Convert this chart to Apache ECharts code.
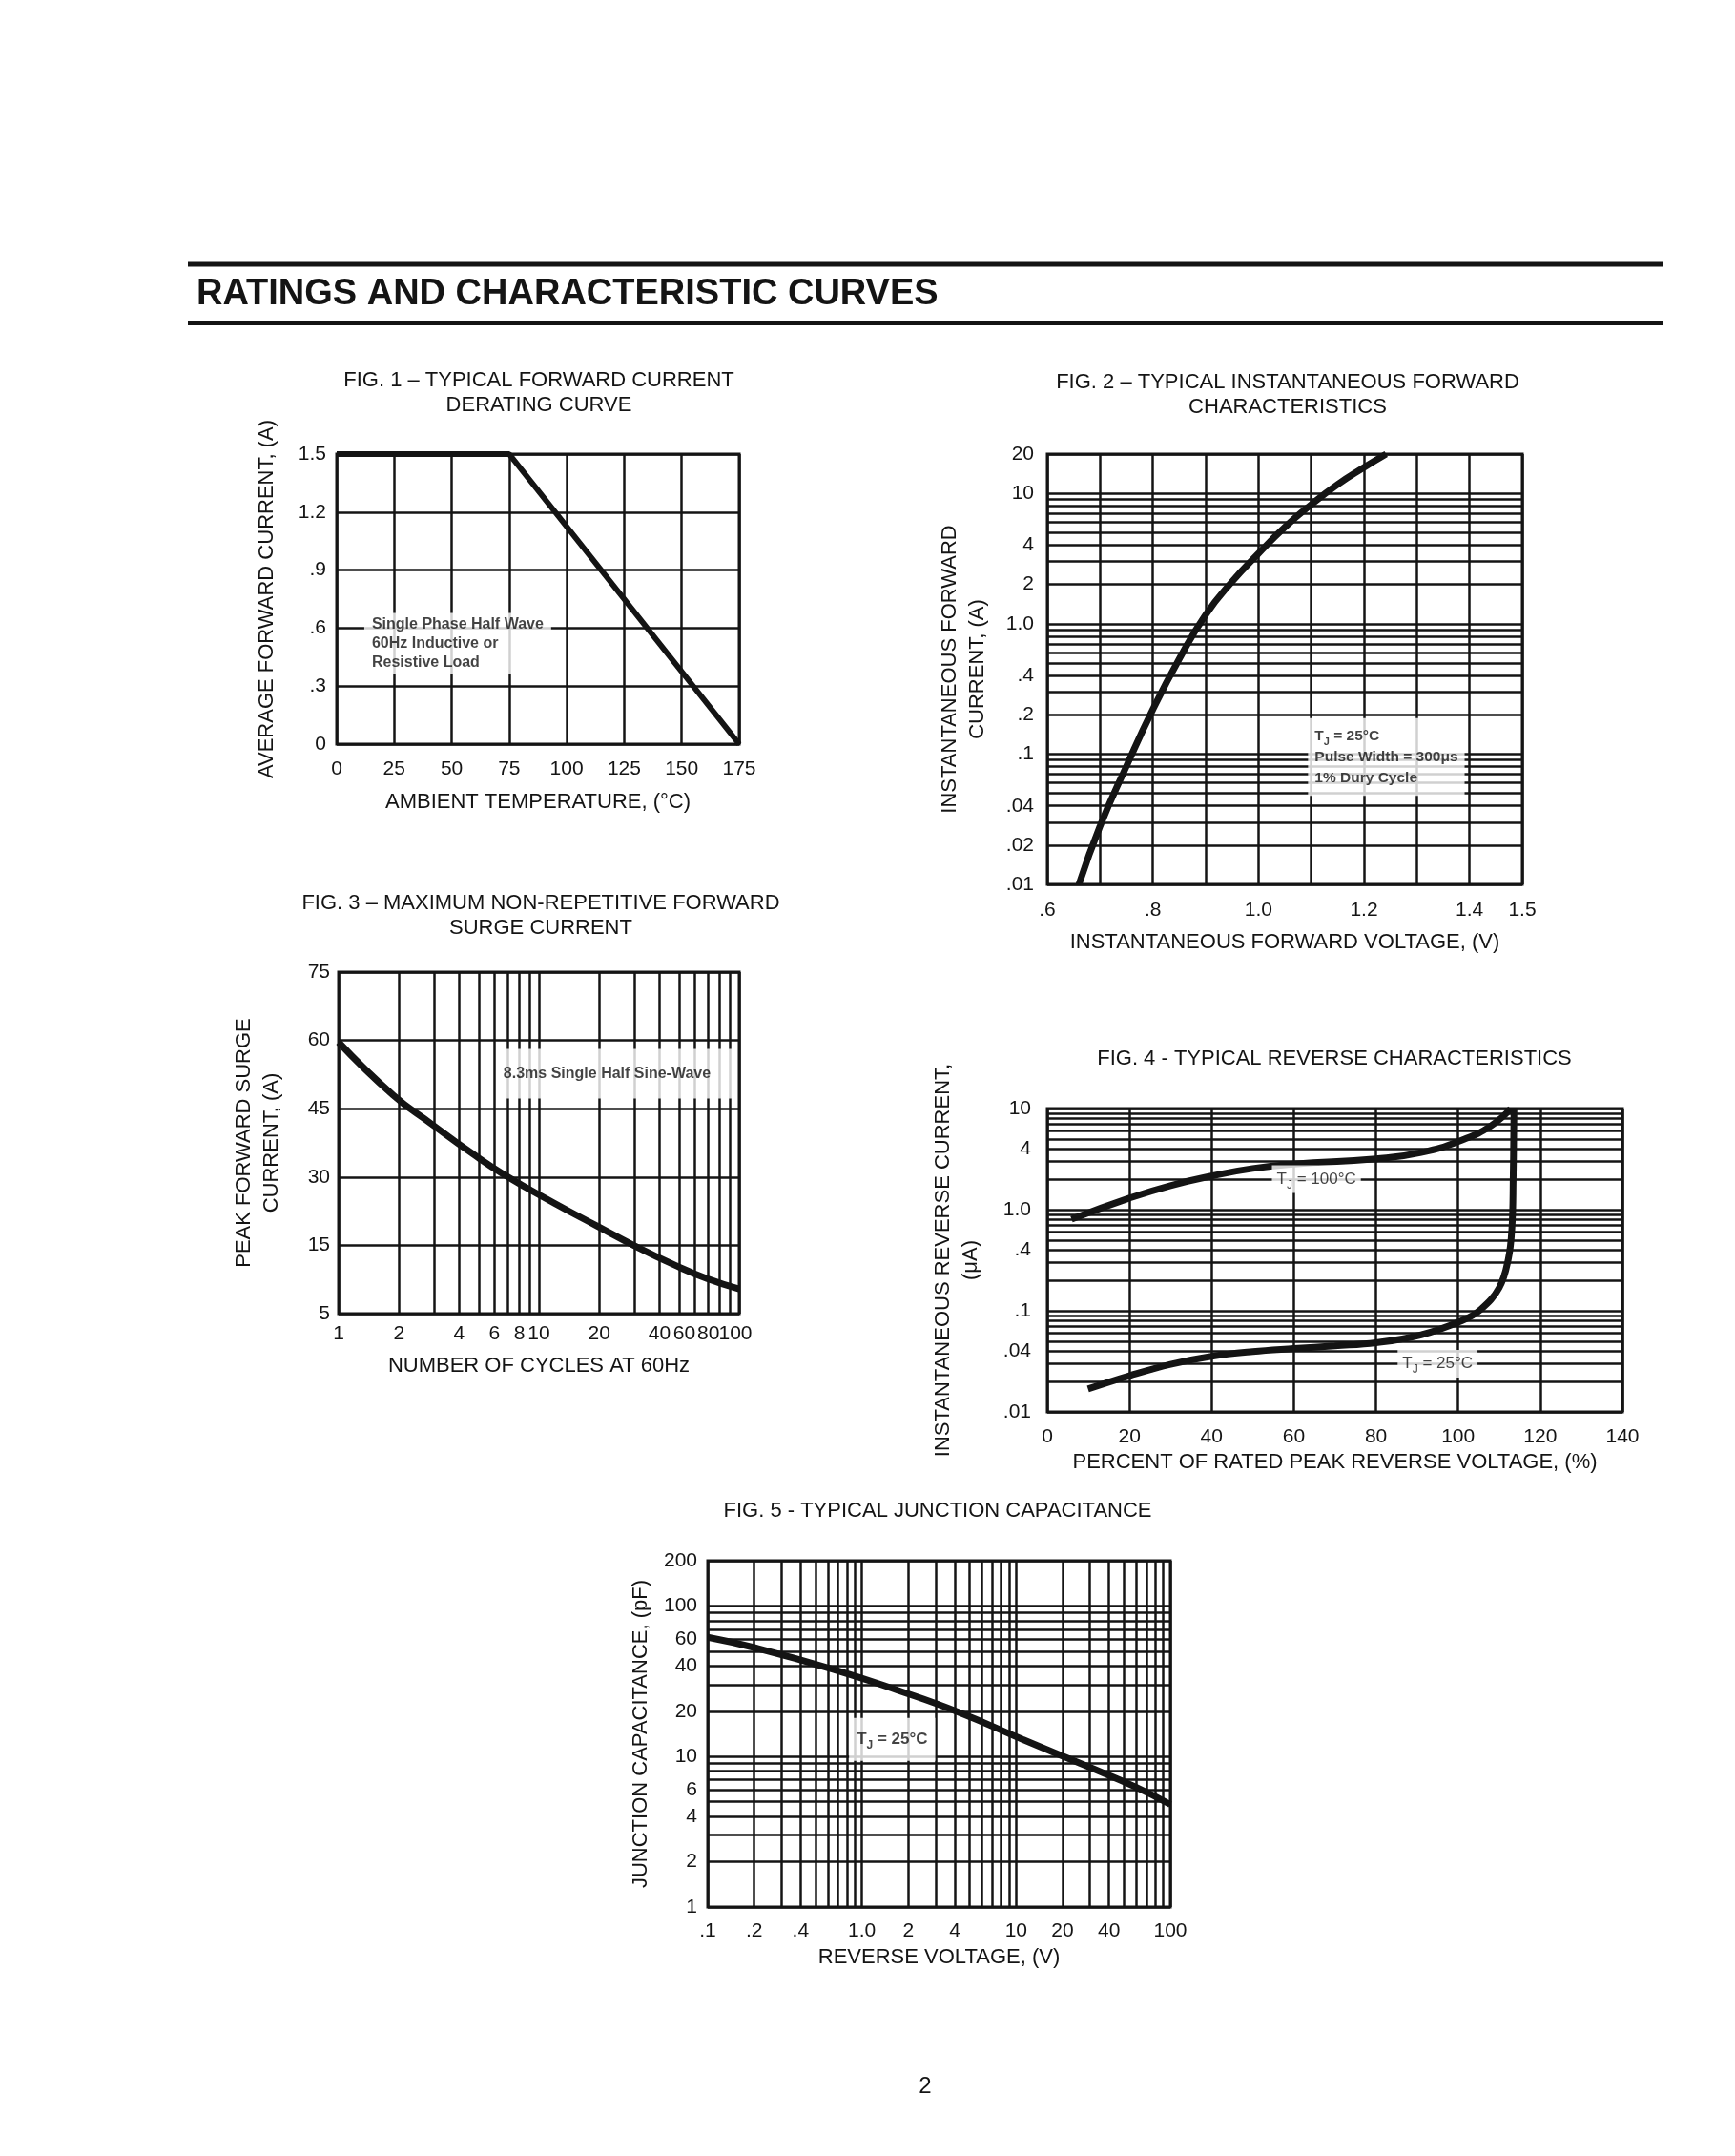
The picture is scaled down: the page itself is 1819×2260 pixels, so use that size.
<!DOCTYPE html>
<html>
<head>
<meta charset="utf-8">
<title>Ratings and Characteristic Curves</title>
<script src="https://cdn.jsdelivr.net/npm/echarts@6/dist/echarts.min.js"></script>
<style>
  html, body { margin: 0; padding: 0; background: #fff; }
  #main { width: 1819px; height: 2260px; }
</style>
</head>
<body>
<div id="main"></div>
<script>
// FIG. 1 - derating curve
var fig1Temp = [0, 75, 175];
var fig1Amps = [1.5, 1.5, 0];
var fig1YLabels = ['0', '.3', '.6', '.9', '1.2', '1.5'];

// FIG. 2 - forward characteristics
var fig2Volts = [0.66, 0.70, 0.75, 0.80, 0.85, 0.90, 0.95, 1.00, 1.05, 1.10, 1.15, 1.20, 1.242];
var fig2Amps = [0.01, 0.028, 0.0807, 0.22, 0.536, 1.17, 2.1, 3.45, 5.5, 8.2, 11.7, 15.8, 20];
var fig2XTicks = [0.6, 0.8, 1.0, 1.2, 1.4, 1.5];
var fig2XLabels = ['.6', '.8', '1.0', '1.2', '1.4', '1.5'];
var fig2YTicks = [20, 10, 4, 2, 1, 0.4, 0.2, 0.1, 0.04, 0.02, 0.01];
var fig2YLabels = ['20', '10', '4', '2', '1.0', '.4', '.2', '.1', '.04', '.02', '.01'];

// FIG. 3 - surge current
var fig3Cycles = [1, 1.87, 2.9, 4.67, 6.72, 12, 19.4, 30, 48, 69, 100];
var fig3Amps = [59.6, 48, 41.7, 35.1, 30.5, 24.2, 19.3, 14.9, 10.6, 7.7, 5.4];
var fig3XTicks = [1, 2, 4, 6, 8, 10, 20, 40, 60, 80, 100];
var fig3XLabels = ['1', '2', '4', '6', '8', '10', '20', '40', '60', '80', '100'];
var fig3YLabels = ['5', '15', '30', '45', '60', '75'];

// FIG. 4 - reverse characteristics
var fig4Pct100 = [5.9, 20, 30, 40, 50, 60, 80, 91, 101, 108, 112.8];
var fig4Ir100 = [0.805, 1.3, 1.73, 2.15, 2.55, 2.82, 3.18, 3.67, 4.89, 6.75, 10];
var fig4Pct25 = [9.9, 20, 30, 40, 50, 60, 70, 80, 91, 101, 105.5, 110, 112.2, 113.1, 113.4, 113.6];
var fig4Ir25 = [0.0169, 0.0228, 0.0296, 0.0355, 0.0395, 0.0423, 0.045, 0.0483, 0.0578, 0.08, 0.103, 0.169, 0.322, 0.66, 2, 10];
var fig4YTicks = [10, 4, 1, 0.4, 0.1, 0.04, 0.01];
var fig4YLabels = ['10', '4', '1.0', '.4', '.1', '.04', '.01'];

// FIG. 5 - junction capacitance
var fig5Volts = [0.1, 0.2, 0.65, 1.7, 4.3, 11, 29, 59, 100];
var fig5Cap = [62, 53, 38, 27.6, 19.6, 13, 8.6, 6.3, 4.8];
var fig5XTicks = [0.1, 0.2, 0.4, 1, 2, 4, 10, 20, 40, 100];
var fig5XLabels = ['.1', '.2', '.4', '1.0', '2', '4', '10', '20', '40', '100'];
var fig5YTicks = [200, 100, 60, 40, 20, 10, 6, 4, 2, 1];
var fig5YLabels = ['200', '100', '60', '40', '20', '10', '6', '4', '2', '1'];

var INK = '#141414';
var FONT = 'Liberation Sans, Arial, sans-serif';
var TICK = 21;

function zip(xs, ys) {
  return xs.map(function (x, i) { return [x, ys[i]]; });
}

// log paper rulings: 1..9 of every decade from lo up to hi
function logLines(lo, hi) {
  var out = [];
  for (var d = lo; d < hi * 0.999; d *= 10) {
    for (var m = 1; m <= 9; m++) {
      var v = +(m * d).toPrecision(3);
      if (v <= hi * 1.0001) out.push(v);
    }
  }
  if (out.indexOf(hi) < 0) out.push(hi);
  return out;
}

function pick(ticks, texts, v) {
  var k = ticks.findIndex(function (t) { return Math.abs(t - v) <= Math.abs(v) * 1e-6 + 1e-9; });
  return k < 0 ? '' : texts[k];
}

// markLine items for the rulings, labelled where there is a tick
function ruled(dim, lines, ticks, texts, dist, nudge) {
  return lines.map(function (v) {
    var item = {};
    item[dim] = v;
    var t = pick(ticks, texts, v);
    item.label = t === '' ? { show: false } : {
      show: true, position: 'start', distance: dist, formatter: t,
      color: INK, fontSize: TICK, fontFamily: FONT,
      offset: [(nudge && nudge[t]) || 0, 0]
    };
    return item;
  });
}

function axisBase(extra) {
  return Object.assign({
    axisLine: { show: false },
    axisTick: { show: false },
    nameLocation: 'middle',
    nameTextStyle: { color: INK, fontSize: 22, fontFamily: FONT, lineHeight: 29 },
    splitLine: { show: true, lineStyle: { color: INK, width: 2.5 } }
  }, extra);
}

function label(margin, fmt) {
  return { color: INK, fontSize: TICK, fontFamily: FONT, margin: margin, formatter: fmt };
}

function curve(i, pts, extra) {
  return Object.assign({
    type: 'line', xAxisIndex: i, yAxisIndex: i, data: pts,
    showSymbol: false, symbol: 'none', smooth: 0.5, z: 3, silent: true,
    lineStyle: { color: INK, width: 7 }
  }, extra);
}

function withRules(s, data) {
  s.markLine = {
    silent: true, z: 1, symbol: ['none', 'none'], animation: false,
    lineStyle: { color: INK, width: 2.5, type: 'solid' },
    label: { show: false },
    data: data
  };
  return s;
}

function note(i, point, text, opt) {
  return {
    type: 'scatter', xAxisIndex: i, yAxisIndex: i, z: 10, silent: true,
    symbolSize: 0, data: [point],
    label: Object.assign({
      show: true, position: 'right', distance: 0, formatter: text,
      backgroundColor: '#fff', color: INK, fontFamily: FONT,
      fontSize: 16, fontWeight: 'bold', lineHeight: 20, align: 'left'
    }, opt)
  };
}

function tjRich(size, weight) {
  return {
    t: { fontSize: size, fontWeight: weight, color: INK, fontFamily: FONT },
    s: { fontSize: Math.round(size * 0.7), fontWeight: weight, color: INK, fontFamily: FONT,
         verticalAlign: 'bottom', lineHeight: size + 8 }
  };
}

function text(x, y, str, font, align, lh) {
  return {
    type: 'text', x: x, y: y, silent: true,
    style: {
      text: str, font: font, fill: INK, lineHeight: lh || 26,
      align: align, textAlign: align, verticalAlign: 'middle', textVerticalAlign: 'middle'
    }
  };
}

var chart = echarts.init(document.getElementById('main'));

var series = [
  curve(0, zip(fig1Temp, fig1Amps), { smooth: false, clip: false, lineStyle: { color: INK, width: 6 } }),
  note(0, [12, 0.52], 'Single Phase Half Wave\n60Hz Inductive or\nResistive Load', { padding: [2, 8] }),

  withRules(curve(1, zip(fig2Volts, fig2Amps)),
    ruled('yAxis', logLines(0.01, 20), fig2YTicks, fig2YLabels, 14)),
  note(1, [1.094, 0.095], '{t|T}{s|J}{t| = 25°C}\n{t|Pulse Width = 300μs}\n{t|1% Dury Cycle}',
    { padding: [7, 7], lineHeight: 22, rich: tjRich(15.5, 'bold') }),

  withRules(curve(2, zip(fig3Cycles, fig3Amps)),
    ruled('xAxis', logLines(1, 100), fig3XTicks, fig3XLabels, 11, { '60': -11, '80': -12, '100': -4 })),
  note(2, [6.3, 52.7], '8.3ms Single Half Sine-Wave', { padding: [16, 24, 16, 5] }),

  withRules(curve(3, zip(fig4Pct100, fig4Ir100)),
    ruled('yAxis', logLines(0.01, 10), fig4YTicks, fig4YLabels, 17)),
  curve(3, zip(fig4Pct25, fig4Ir25), { smooth: 0.4 }),
  note(3, [65.5, 2], '{t|T}{s|J}{t| = 100°C}',
    { position: 'inside', align: 'center', padding: [2, 5], rich: tjRich(17, 'normal') }),
  note(3, [95, 0.03], '{t|T}{s|J}{t| = 25°C}',
    { position: 'inside', align: 'center', padding: [2, 5], rich: tjRich(17, 'normal') }),

  withRules(curve(4, zip(fig5Volts, fig5Cap)),
    ruled('xAxis', logLines(0.1, 100), fig5XTicks, fig5XLabels, 15)
      .concat(ruled('yAxis', logLines(1, 200), fig5YTicks, fig5YLabels, 11))),
  note(4, [1.57, 13], '{t|T}{s|J}{t| = 25°C}',
    { position: 'inside', align: 'center', padding: [10, 8], rich: tjRich(17, 'bold') })
];

var option = {
  animation: false,
  backgroundColor: '#fff',
  textStyle: { fontFamily: FONT },
  grid: [
    { left: 353, top: 476, width: 422, height: 304 },
    { left: 1098, top: 476, width: 498, height: 451 },
    { left: 355, top: 1019, width: 420, height: 358 },
    { left: 1098, top: 1162, width: 603, height: 318 },
    { left: 742, top: 1636, width: 485, height: 363 }
  ].map(function (g) {
    return Object.assign({ show: true, borderColor: INK, borderWidth: 3, backgroundColor: 'transparent' }, g);
  }),
  xAxis: [
    axisBase({ gridIndex: 0, type: 'value', min: 0, max: 175, interval: 25,
      name: 'AMBIENT TEMPERATURE, (°C)', nameGap: 46, axisLabel: label(16) }),
    axisBase({ gridIndex: 1, type: 'value', min: 0.6, max: 1.5, interval: 0.1,
      name: 'INSTANTANEOUS FORWARD VOLTAGE, (V)', nameGap: 46,
      axisLabel: label(17, function (v) { return pick(fig2XTicks, fig2XLabels, v); }) }),
    axisBase({ gridIndex: 2, type: 'log', logBase: 10, min: 1, max: 100,
      name: 'NUMBER OF CYCLES AT 60Hz', nameGap: 40,
      axisLabel: { show: false }, splitLine: { show: false } }),
    axisBase({ gridIndex: 3, type: 'value', min: 0, max: 140, interval: 20,
      name: 'PERCENT OF RATED PEAK REVERSE VOLTAGE, (%)', nameGap: 38, axisLabel: label(16) }),
    axisBase({ gridIndex: 4, type: 'log', logBase: 10, min: 0.1, max: 100,
      name: 'REVERSE VOLTAGE, (V)', nameGap: 38,
      axisLabel: { show: false }, splitLine: { show: false } })
  ],
  yAxis: [
    axisBase({ gridIndex: 0, type: 'value', min: 0, max: 1.5, interval: 0.3,
      name: 'AVERAGE FORWARD CURRENT, (A)', nameGap: 59,
      axisLabel: label(11, function (v) { return fig1YLabels[Math.round(v / 0.3)]; }) }),
    axisBase({ gridIndex: 1, type: 'log', logBase: 10, min: 0.01, max: 20,
      name: 'INSTANTANEOUS FORWARD\nCURRENT, (A)', nameGap: 59,
      axisLabel: { show: false }, splitLine: { show: false } }),
    axisBase({ gridIndex: 2, type: 'value', min: 0, max: 75, interval: 15,
      name: 'PEAK FORWARD SURGE\nCURRENT, (A)', nameGap: 56,
      axisLabel: label(9, function (v) { return fig3YLabels[Math.round(v / 15)]; }) }),
    axisBase({ gridIndex: 3, type: 'log', logBase: 10, min: 0.01, max: 10,
      name: 'INSTANTANEOUS REVERSE CURRENT,\n(μA)', nameGap: 66,
      axisLabel: { show: false }, splitLine: { show: false } }),
    axisBase({ gridIndex: 4, type: 'log', logBase: 10, min: 1, max: 200,
      name: 'JUNCTION CAPACITANCE, (pF)', nameGap: 56,
      axisLabel: { show: false }, splitLine: { show: false } })
  ],
  graphic: [
    { type: 'line', silent: true, shape: { x1: 197, y1: 277, x2: 1743, y2: 277 }, style: { stroke: INK, lineWidth: 5 } },
    { type: 'line', silent: true, shape: { x1: 197, y1: 339, x2: 1743, y2: 339 }, style: { stroke: INK, lineWidth: 4 } },
    text(206, 309, 'RATINGS AND CHARACTERISTIC CURVES', 'bold 38px Liberation Sans, Arial, sans-serif', 'left'),
    text(565, 412, 'FIG. 1 – TYPICAL FORWARD CURRENT\nDERATING CURVE', '22px Liberation Sans, Arial, sans-serif', 'center'),
    text(1350, 414, 'FIG. 2 – TYPICAL INSTANTANEOUS FORWARD\nCHARACTERISTICS', '22px Liberation Sans, Arial, sans-serif', 'center'),
    text(567, 960, 'FIG. 3 – MAXIMUM NON-REPETITIVE FORWARD\nSURGE CURRENT', '22px Liberation Sans, Arial, sans-serif', 'center'),
    text(1399, 1110, 'FIG. 4 - TYPICAL REVERSE CHARACTERISTICS', '22px Liberation Sans, Arial, sans-serif', 'center'),
    text(983, 1584, 'FIG. 5 - TYPICAL JUNCTION CAPACITANCE', '22px Liberation Sans, Arial, sans-serif', 'center'),
    text(970, 2187, '2', '24px Liberation Sans, Arial, sans-serif', 'center')
  ],
  series: series
};

chart.setOption(option);
</script>
</body>
</html>
